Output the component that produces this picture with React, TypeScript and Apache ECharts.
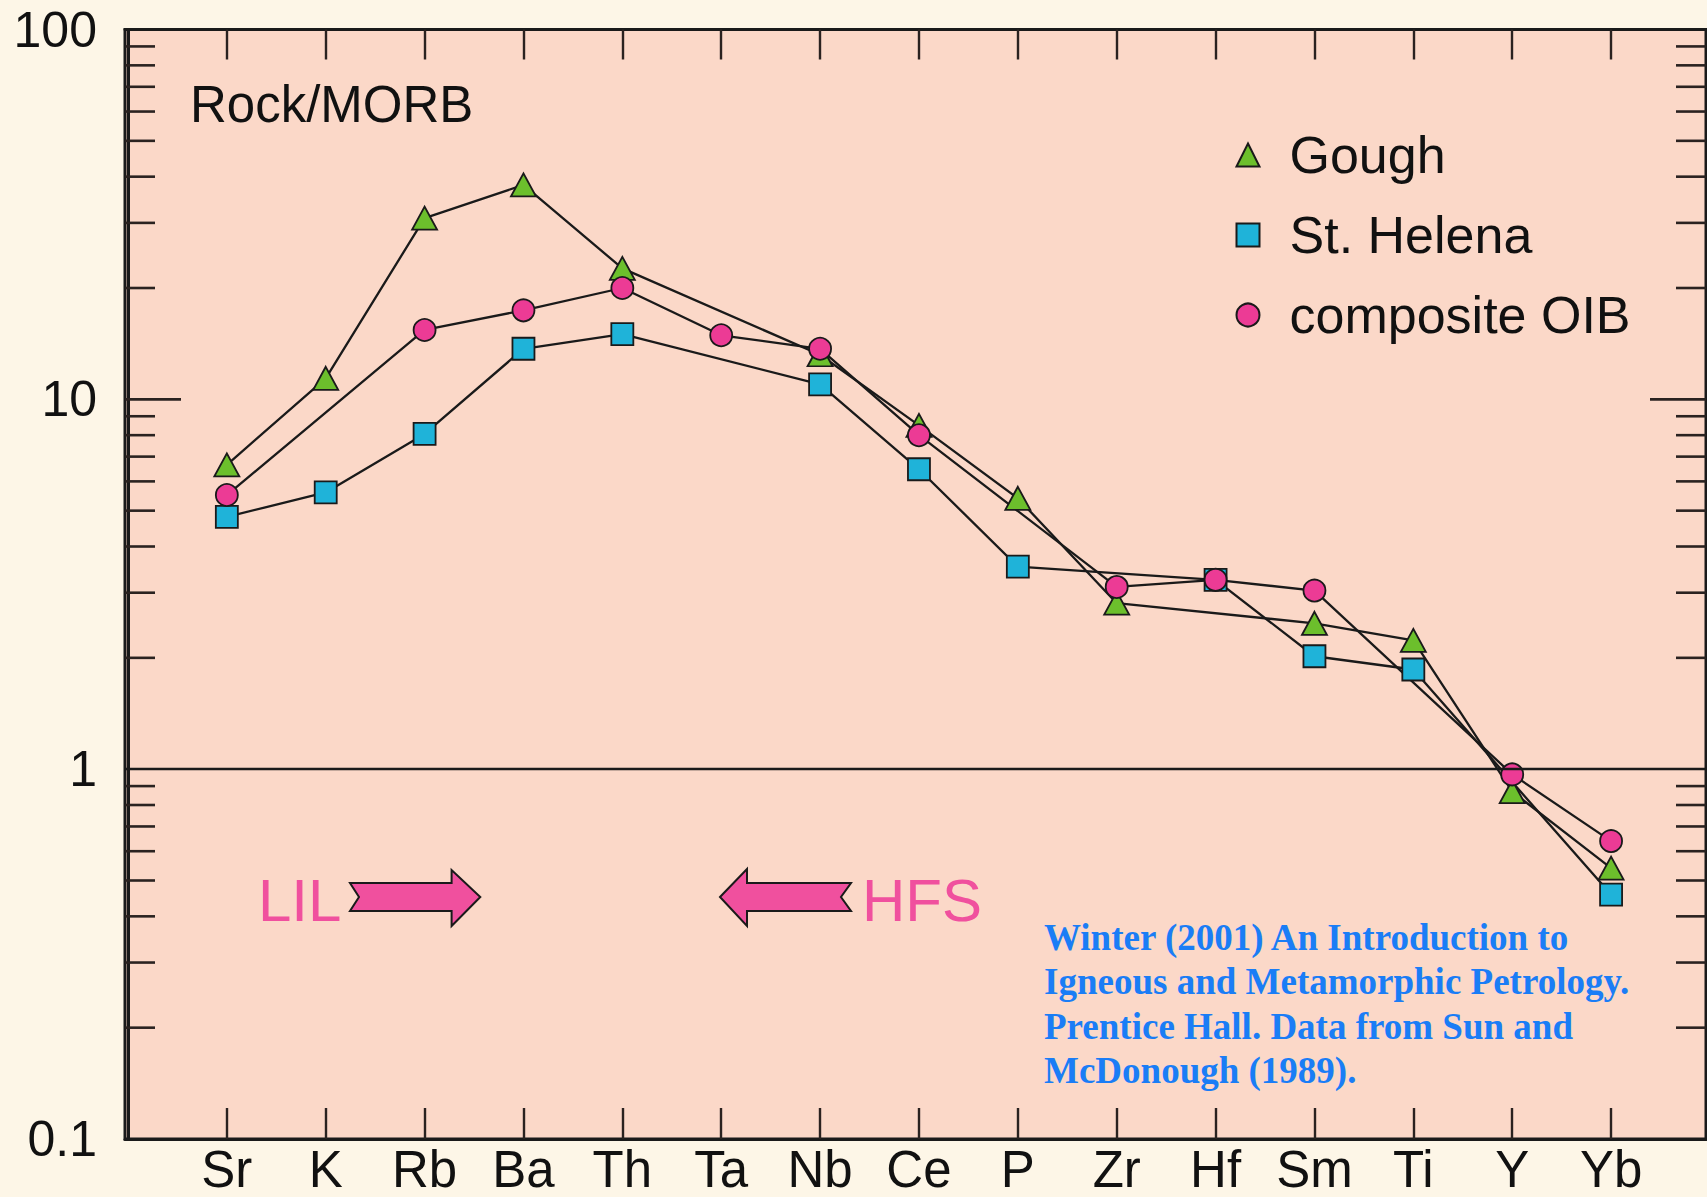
import React, { useEffect, useRef } from "react";
import * as echarts from "echarts";

// ---- data ----
const elements = ["Sr", "K", "Rb", "Ba", "Th", "Ta", "Nb", "Ce", "P", "Zr", "Hf", "Sm", "Ti", "Y", "Yb"];
const gough = [6.65, 11.4, 30.9, 38.0, 22.6, null, 13.2, 8.5, 5.4, 2.81, null, 2.48, 2.23, 0.87, 0.54];
const stHelena = [4.81, 5.6, 8.06, 13.7, 15.0, null, 10.98, 6.47, 3.53, null, 3.25, 2.02, 1.86, null, 0.458];
const compositeOIB = [5.51, null, 15.4, 17.4, 20.0, 14.9, 13.7, 8.0, null, 3.11, 3.25, 3.04, null, 0.968, 0.639];

const xTickValues = [1, 2, 3, 4, 5, 6, 7, 8, 9, 10, 11, 12, 13, 14, 15];
const yMinorTicks = [0.2, 0.3, 0.4, 0.5, 0.6, 0.7, 0.8, 0.9, 2, 3, 4, 5, 6, 7, 8, 9, 20, 30, 40, 50, 60, 70, 80, 90];
const yMajorTicks = [10];
const referenceLine = 1;

const citation = [
  "Winter (2001) An Introduction to",
  "Igneous and Metamorphic Petrology.",
  "Prentice Hall. Data from Sun and",
  "McDonough (1989).",
];

const PAGE_BG = "#FDF6E7";
const PLOT_BG = "#FBD8C8";
const INK = "#1a1a1a";
const PINK = "#F0509E";
const SANS = '"Liberation Sans", Arial, Helvetica, sans-serif';

function toPairs(vals: (number | null)[]) {
  const out: [number, number][] = [];
  vals.forEach((v, i) => {
    if (v != null) out.push([i + 1, v]);
  });
  return out;
}

const seriesDefs = [
  { name: "St. Helena", values: stHelena, symbol: "rect", size: 22, color: "#1FB3D9" },
  { name: "Gough", values: gough, symbol: "triangle", size: [25, 23], color: "#6CBF2C" },
  { name: "composite OIB", values: compositeOIB, symbol: "circle", size: 22, color: "#EC3B95" },
];

export default function App() {
  const ref = useRef<HTMLDivElement>(null);
  useEffect(() => {
    if (!ref.current) return;
    const chart = echarts.init(ref.current, null, { renderer: "svg" });

    const lineSeries = seriesDefs.map((s, k) => ({
      type: "line",
      name: s.name + " line",
      data: toPairs(s.values),
      symbol: "none",
      lineStyle: { color: INK, width: 2.3 },
      z: 2,
      silent: true,
      ...(k === 0
        ? {
            markLine: {
              silent: true,
              symbol: ["none", "none"],
              label: { show: false },
              lineStyle: { color: INK, width: 2.3, type: "solid" },
              data: [{ yAxis: referenceLine }],
            },
          }
        : {}),
    }));

    const scatterSeries = seriesDefs.map((s) => ({
      type: "scatter",
      name: s.name,
      data: toPairs(s.values),
      symbol: s.symbol,
      symbolSize: s.size,
      itemStyle: { color: s.color, borderColor: INK, borderWidth: 1.8, opacity: 1 },
      z: 3,
    }));

    const tickSeries = {
      type: "custom",
      name: "yticks",
      silent: true,
      z: 4,
      data: [...yMinorTicks, ...yMajorTicks].map((v) => [0, v]),
      renderItem: (params: any, api: any) => {
        const cs = params.coordSys;
        const v = api.value(1);
        const y = api.coord([0, v])[1];
        const len = yMajorTicks.includes(v) ? 56 : 30;
        const style = { stroke: "#2a2220", lineWidth: 2.6 };
        return {
          type: "group",
          children: [
            { type: "line", shape: { x1: cs.x, y1: y, x2: cs.x + len, y2: y }, style },
            { type: "line", shape: { x1: cs.x + cs.width - len, y1: y, x2: cs.x + cs.width, y2: y }, style },
          ],
        };
      },
    };

    const xAxisCommon = {
      type: "value",
      min: -0.03,
      max: 15.96,
      splitLine: { show: false },
      axisLine: { show: true, lineStyle: { color: INK, width: 3 } },
    };

    const option: any = {
      animation: false,
      backgroundColor: PAGE_BG,
      grid: {
        left: 125,
        top: 29.5,
        width: 1581,
        height: 1109.5,
        show: true,
        backgroundColor: PLOT_BG,
        borderColor: INK,
        borderWidth: 3,
        containLabel: false,
        outerBoundsMode: "none",
      },
      xAxis: [
        {
          ...xAxisCommon,
          position: "bottom",
          axisTick: {
            show: true,
            inside: true,
            length: 31,
            customValues: xTickValues,
            lineStyle: { color: "#2a2220", width: 2.4 },
          },
          axisLabel: {
            show: true,
            customValues: xTickValues,
            margin: 5,
            fontSize: 51,
            lineHeight: 50,
            fontFamily: SANS,
            color: "#111",
            formatter: (v: number) => elements[Math.round(v) - 1] ?? "",
          },
        },
        {
          ...xAxisCommon,
          position: "top",
          axisTick: {
            show: true,
            inside: true,
            length: 30,
            customValues: xTickValues,
            lineStyle: { color: "#2a2220", width: 2.4 },
          },
          axisLabel: { show: false },
        },
      ],
      yAxis: {
        type: "log",
        logBase: 10,
        min: 0.1,
        max: 100,
        splitLine: { show: false },
        axisTick: { show: false },
        minorTick: { show: false },
        axisLine: { show: true, lineStyle: { color: INK, width: 3 } },
        axisLabel: {
          margin: 28,
          fontSize: 50,
          lineHeight: 50,
          fontFamily: SANS,
          color: "#111",
          formatter: (v: number) => (v < 1 ? v.toFixed(1) : String(Math.round(v))),
        },
      },
      legend: {
        data: [
          { name: "Gough", icon: "triangle" },
          { name: "St. Helena", icon: "rect" },
          { name: "composite OIB", icon: "circle" },
        ],
        orient: "vertical",
        left: 1235.5,
        top: 129,
        padding: 0,
        itemWidth: 23,
        itemHeight: 23,
        itemGap: 28,
        selectedMode: false,
        textStyle: {
          fontSize: 52,
          fontFamily: SANS,
          color: "#111",
          lineHeight: 51,
          padding: [0, 0, 0, 25],
        },
      },
      graphic: [
        {
          type: "text",
          x: 190,
          y: 104,
          style: {
            text: "Rock/MORB",
            fill: "#111",
            font: `51px ${SANS}`,
            textAlign: "left",
            textVerticalAlign: "middle",
            align: "left",
            verticalAlign: "middle",
          },
        },
        {
          type: "text",
          x: 258,
          y: 900,
          style: {
            text: "LIL",
            fill: PINK,
            font: `60px ${SANS}`,
            textAlign: "left",
            textVerticalAlign: "middle",
            align: "left",
            verticalAlign: "middle",
          },
        },
        {
          type: "polygon",
          shape: {
            points: [
              [350, 883],
              [451.6, 883],
              [451.6, 870],
              [480.3, 897],
              [451.6, 926],
              [451.6, 911],
              [350, 911],
              [359, 897],
            ],
          },
          style: { fill: PINK, stroke: INK, lineWidth: 2 },
        },
        {
          type: "polygon",
          shape: {
            points: [
              [720, 897],
              [747, 869],
              [747, 883],
              [851, 883],
              [841, 897],
              [851, 911],
              [747, 911],
              [747, 926],
            ],
          },
          style: { fill: PINK, stroke: INK, lineWidth: 2 },
        },
        {
          type: "text",
          x: 862,
          y: 900,
          style: {
            text: "HFS",
            fill: PINK,
            font: `60px ${SANS}`,
            textAlign: "left",
            textVerticalAlign: "middle",
            align: "left",
            verticalAlign: "middle",
          },
        },
        {
          type: "text",
          x: 1044,
          y: 915,
          style: {
            text: citation.join("\n"),
            fill: "#1A7DF6",
            font: `bold 37px "Liberation Serif", "Times New Roman", serif`,
            lineHeight: 44.5,
            textAlign: "left",
            textVerticalAlign: "top",
            align: "left",
            verticalAlign: "top",
          },
        },
      ],
      series: [...lineSeries, ...scatterSeries, tickSeries],
    };

    chart.setOption(option);
    return () => chart.dispose();
  }, []);

  return (
    <div
      ref={ref}
      style={{ position: "absolute", left: 0, top: 0, width: 1707, height: 1197, background: PAGE_BG }}
    />
  );
}
